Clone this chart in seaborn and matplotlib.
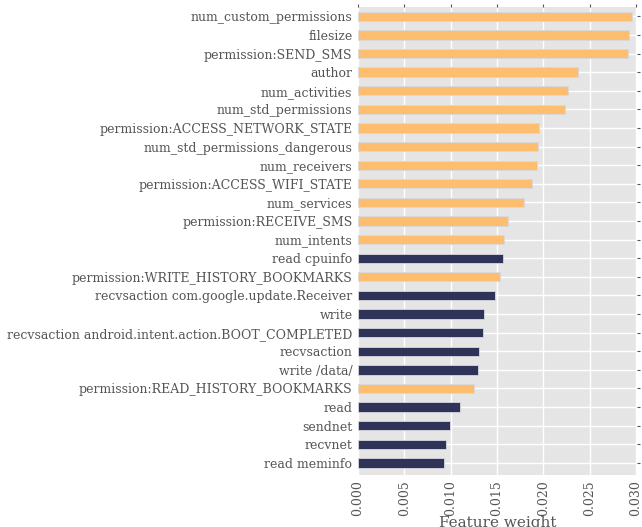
import matplotlib
matplotlib.use('Agg')
import matplotlib.pyplot as plt
import seaborn as sns
import pandas as pd

features = ['num_custom_permissions', 'filesize', 'permission:SEND_SMS', 'author',
            'num_activities', 'num_std_permissions', 'permission:ACCESS_NETWORK_STATE',
            'num_std_permissions_dangerous', 'num_receivers', 'permission:ACCESS_WIFI_STATE',
            'num_services', 'permission:RECEIVE_SMS', 'num_intents', 'read cpuinfo',
            'permission:WRITE_HISTORY_BOOKMARKS', 'recvsaction com.google.update.Receiver',
            'write', 'recvsaction android.intent.action.BOOT_COMPLETED', 'recvsaction',
            'write /data/', 'permission:READ_HISTORY_BOOKMARKS', 'read', 'sendnet',
            'recvnet', 'read meminfo']
weights = [0.0296, 0.0293, 0.0291, 0.0238, 0.0227, 0.0223, 0.0195, 0.0194, 0.0193, 0.0188,
           0.0179, 0.0162, 0.0158, 0.0157, 0.0153, 0.0148, 0.0136, 0.0135, 0.0131, 0.0129,
           0.0125, 0.0110, 0.0099, 0.0095, 0.0093]
kind = ['static', 'static', 'static', 'static', 'static', 'static', 'static', 'static',
        'static', 'static', 'static', 'static', 'static', 'dynamic', 'static', 'dynamic',
        'dynamic', 'dynamic', 'dynamic', 'dynamic', 'static', 'dynamic', 'dynamic',
        'dynamic', 'dynamic']
palette = {'static': '#FDBF6F', 'dynamic': '#2F3358'}

df = pd.DataFrame({'feature': features, 'weight': weights, 'kind': kind})

sns.set_style('darkgrid', {'axes.facecolor': '#E5E5E5', 'grid.color': 'white'})
plt.rcParams['font.family'] = ['DejaVu Serif']

fig = plt.figure(figsize=(6.42, 5.27), dpi=100)
ax = fig.add_axes([0.5576, 0.0987, 0.4344, 0.888])
sns.barplot(data=df, x='weight', y='feature', hue='kind', palette=palette, dodge=False,
            width=0.5, legend=False, ax=ax, saturation=1, edgecolor='#D8D8E0', linewidth=0.6)

ax.set_xlim(0, 0.0301)
ax.set_ylim(len(features) - 0.35, -0.5)
ax.set_xticks([0.0, 0.005, 0.01, 0.015, 0.02, 0.025, 0.03])
ax.set_xticklabels(['0.000', '0.005', '0.010', '0.015', '0.020', '0.025', '0.030'], rotation=90)
ax.set_ylabel('')
ax.set_xlabel('Feature weight', fontsize=11, color='#555555', labelpad=0)
ax.tick_params(axis='both', labelsize=9, colors='#555555', length=2, width=0.8,
               top=True, right=True, direction='out', pad=2)
ax.grid(True, color='white', linewidth=1)
ax.set_axisbelow(True)
for s in ax.spines.values():
    s.set_visible(False)

fig.savefig('out.png', dpi=100)
